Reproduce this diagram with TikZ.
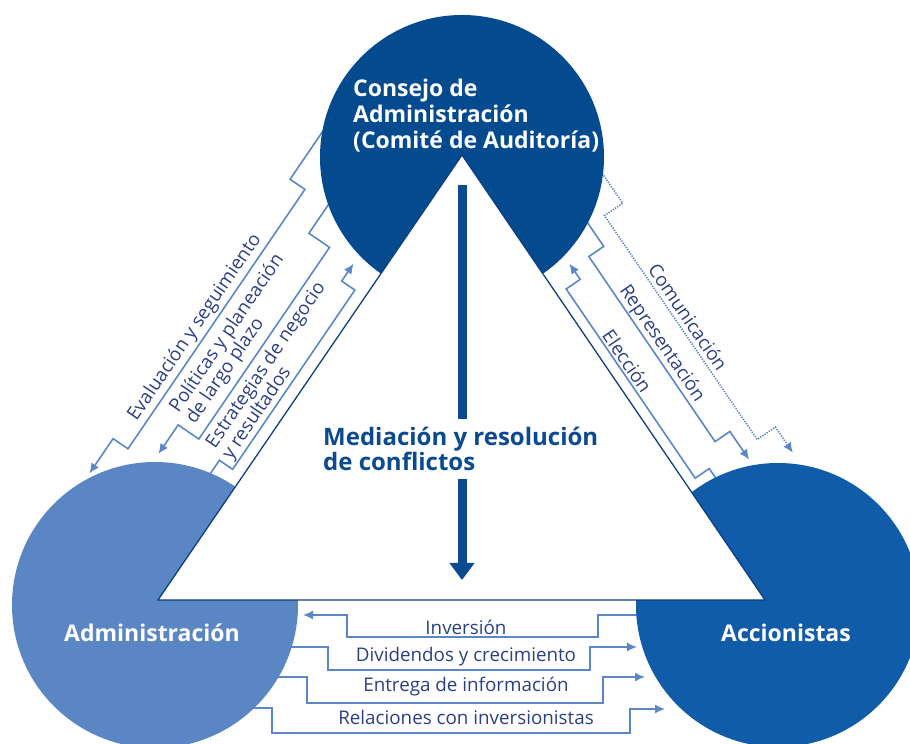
\documentclass[tikz,border=0pt]{standalone}
\usepackage{fontspec}
\setmainfont{Open Sans}
\usetikzlibrary{arrows.meta,positioning,calc}

\definecolor{consejoblue}{HTML}{034A8E}
\definecolor{adminblue}{HTML}{5A86C4}
\definecolor{accionblue}{HTML}{105CA8}
\definecolor{lineblue}{HTML}{5B87C6}
\definecolor{tagblue}{HTML}{2B3F84}
\definecolor{medblue}{HTML}{0B4A91}
\definecolor{triblue}{HTML}{0E3F7E}

\begin{document}
\begin{tikzpicture}[x=1pt, y=1pt, >={Latex[length=10pt,width=9pt]}]
\tikzstyle{party}=[circle, inner sep=0pt, draw=none]
\tikzstyle{flow}=[draw=lineblue, line width=1.6pt, ->]
\tikzstyle{flowtag}=[text=tagblue, inner sep=0pt, align=left, font=\fontsize{18.8}{19.5}\selectfont]
\tikzstyle{partytext}=[text=white, inner sep=0pt, align=left, font=\bfseries\fontsize{23}{26}\selectfont]
\tikzstyle{medtext}=[text=medblue, inner xsep=0pt, inner ysep=8pt, align=left, font=\bfseries\fontsize{24}{25.5}\selectfont]
\tikzstyle{medbar}=[draw=medblue, line width=9pt]
\useasboundingbox (0,0) rectangle (910,744);
\coordinate (apex) at (462,589);
\coordinate (bl) at (158,144);
\coordinate (br) at (765,144);

% consejo <-> administracion, along the left edge
\begin{scope}[shift={(bl)}, rotate=55.7]
  \draw[flow] (490,128) -- (422,128) -- (422,110) -- (108,110) -- (108,128) -- (66,128);
  \draw[flow] (440,82) -- (388,82) -- (388,57) -- (156,57) -- (156,82) -- (121,82);
  \draw[flow] (120,28) -- (150,28) -- (150,12) -- (367,12) -- (367,28) -- (388,28);
  \node[flowtag, rotate=55.7] (evaluacion) at (246,123) {Evaluación y seguimiento};
  \node[flowtag, rotate=55.7] (politicas) at (259,83) {Políticas y planeación\\de largo plazo};
  \node[flowtag, rotate=55.7] (estrategias) at (255,33) {Estrategias de negocio\\y resultados};
\end{scope}

% consejo <-> accionistas, along the right edge
\begin{scope}[shift={(br)}, rotate=124.3, yscale=-1]
  \draw[flow, dash pattern=on 1.3pt off 1.3pt] (452,106) -- (408,106) -- (408,84) -- (137,84) -- (137,106) -- (106,106);
  \draw[flow] (440,66) -- (383,66) -- (383,48) -- (159,48) -- (159,66) -- (125,66);
  \draw[flow] (125,28) -- (140,28) -- (140,11) -- (369,11) -- (369,28) -- (388,28);
  \node[flowtag, rotate=-55.7] (comunicacion) at (277,96) {Comunicación};
  \node[flowtag, rotate=-55.7] (representacion) at (270,59) {Representación};
  \node[flowtag, rotate=-55.7] (eleccion) at (275,21) {Elección};
\end{scope}

% administracion <-> accionistas, under the base
\draw[flow] (650,129) -- (598,129) -- (598,107) -- (347,107) -- (347,129) -- (303,129);
\draw[flow] (270,97) -- (328,97) -- (328,74) -- (590,74) -- (590,97) -- (637,97);
\draw[flow] (265,67) -- (307,67) -- (307,41) -- (603,41) -- (603,67) -- (645,67);
\draw[flow] (245,36) -- (272,36) -- (272,11) -- (630,11) -- (630,35) -- (665,35);
\node[flowtag] (inversion) at (466,117) {Inversión};
\node[flowtag] (dividendos) at (466,87) {Dividendos y crecimiento};
\node[flowtag] (entrega) at (466,57) {Entrega de información};
\node[flowtag] (relaciones) at (466,27) {Relaciones con inversionistas};

% the three parties
\node[party, fill=consejoblue, minimum size=284pt] (consejo) at (462,587) {};
\node[party, fill=adminblue, minimum size=286pt] (admin) at (155,139) {};
\node[party, fill=accionblue, minimum size=284pt] (accion) at (778,139) {};

\draw[fill=white, draw=triblue, line width=1.3pt] (apex) -- (bl) -- (br) -- cycle;

\node[partytext, anchor=west] (consejotxt) at ([xshift=-109pt, yshift=41pt]consejo.center) {Consejo de\\Administración\\(Comité de Auditoría)};
\node[partytext] (admintxt) at ([xshift=-3pt, yshift=-28pt]admin.center) {Administración};
\node[partytext] (acciontxt) at ([xshift=8pt, yshift=-28pt]accion.center) {Accionistas};

% mediacion
\node[medtext, anchor=west] (med) at (323,295) {Mediación y resolución\\de conflictos};
\draw[medbar] ([yshift=-30pt]apex) -- (apex |- med.north);
\draw[medbar, -{Triangle[length=17pt,width=24pt]}] (apex |- med.south) -- (462,164);
\end{tikzpicture}
\end{document}
